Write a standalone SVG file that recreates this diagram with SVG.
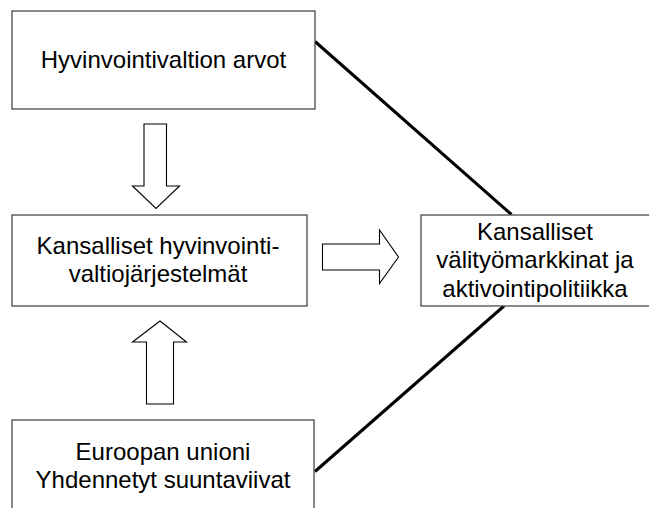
<svg xmlns="http://www.w3.org/2000/svg" width="649" height="508" viewBox="0 0 649 508">
  <style>
    .box { fill: #ffffff; stroke: #3a3a3a; stroke-width: 1.2; }
    .label { font-family: "Liberation Sans", Arial, sans-serif; font-size: 24px; fill: #000000; text-anchor: middle; }
    .link { stroke: #000000; stroke-width: 3; fill: none; stroke-linecap: butt; }
    .block-arrow { fill: #ffffff; stroke: #000000; stroke-width: 1.1; stroke-linejoin: miter; }
  </style>
  <rect x="0" y="0" width="649" height="508" fill="#ffffff"/>

  <!-- connectors: plain lines and hollow block arrows -->
  <g id="connectors">
    <line class="link" x1="315" y1="41.5" x2="511.5" y2="214.5"/>
    <line class="link" x1="504" y1="306" x2="315" y2="471.5"/>
    <!-- down arrow: values -> national systems -->
    <polygon class="block-arrow" points="144,124 166.5,124 166.5,186 179.5,186 156,208.5 132.5,186 144,186"/>
    <!-- up arrow: EU -> national systems -->
    <polygon class="block-arrow" points="146.5,404 173.5,404 173.5,342 186.5,342 160,321 132.5,342 146.5,342"/>
    <!-- right arrow: national systems -> labour market -->
    <polygon class="block-arrow" points="322.5,244 379.5,244 379.5,230 398.5,257 379.5,283.5 379.5,270 322.5,270"/>
  </g>

  <g id="node-values">
    <rect class="box" x="12" y="11" width="303" height="98"/>
    <text class="label" x="163.5" y="68">Hyvinvointivaltion arvot</text>
  </g>

  <g id="node-national-systems">
    <rect class="box" x="12" y="215" width="295" height="91"/>
    <text class="label" x="158" y="254">Kansalliset hyvinvointi-</text>
    <text class="label" x="158" y="282">valtiojärjestelmät</text>
  </g>

  <g id="node-labour-market">
    <rect class="box" x="421" y="215" width="230" height="91"/>
    <text class="label" x="535" y="240">Kansalliset</text>
    <text class="label" x="535" y="268">välityömarkkinat ja</text>
    <text class="label" x="535" y="297">aktivointipolitiikka</text>
  </g>

  <g id="node-eu">
    <rect class="box" x="12" y="420" width="302" height="100"/>
    <text class="label" x="163" y="460">Euroopan unioni</text>
    <text class="label" x="163" y="488">Yhdennetyt suuntaviivat</text>
  </g>
</svg>
